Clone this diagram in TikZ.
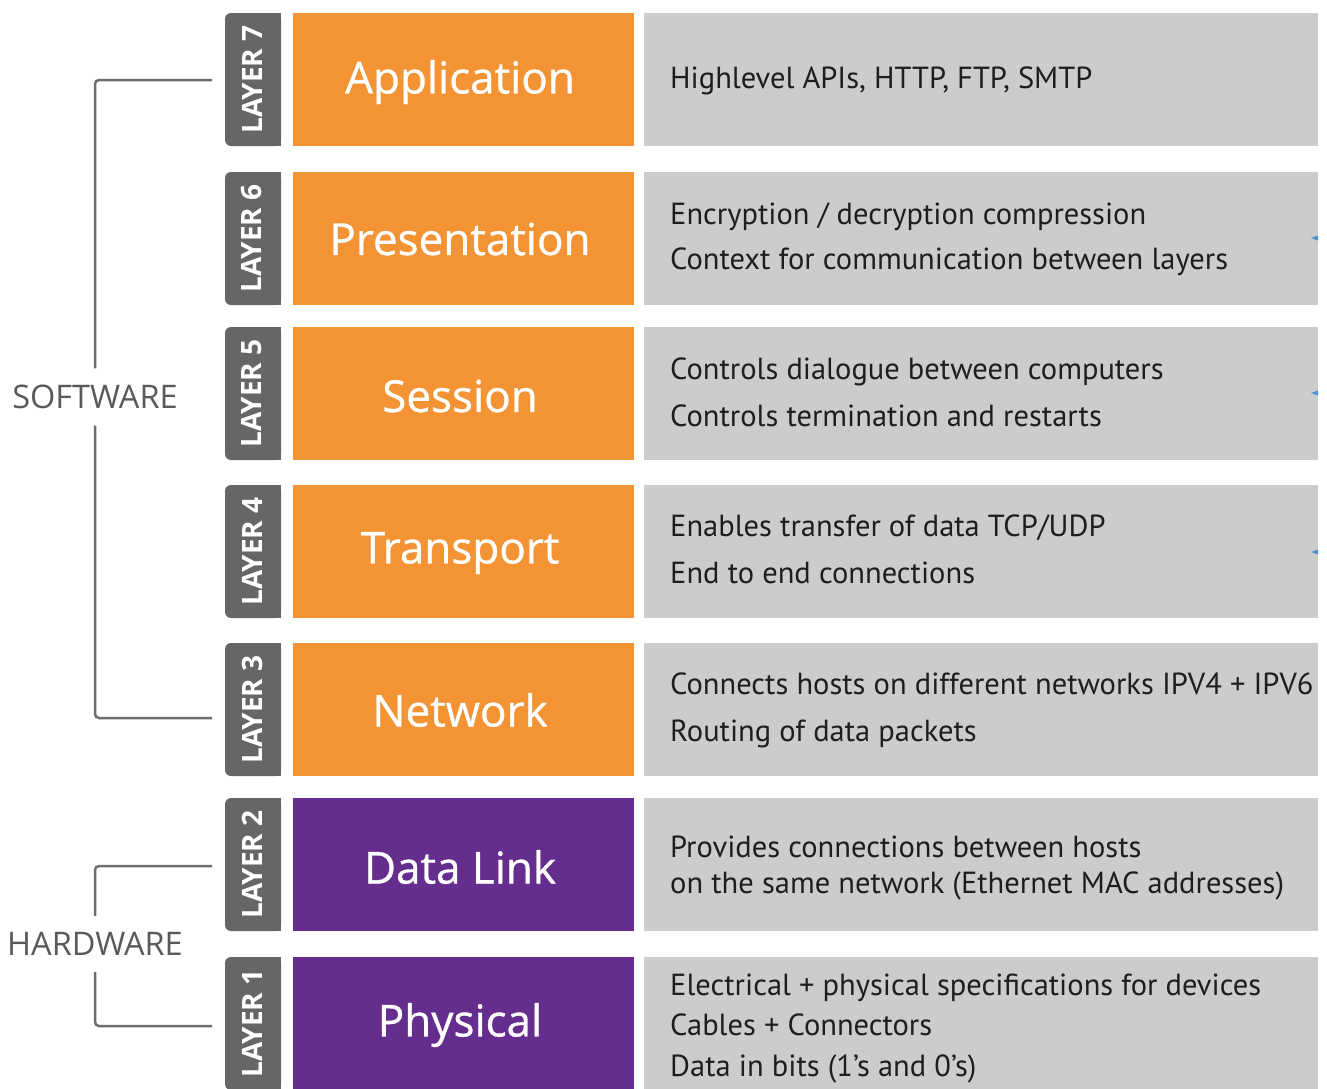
\documentclass[tikz,border=0pt]{standalone}
\usepackage{fontspec}
\setmainfont{Open Sans}
\newfontfamily\descfont{PT Sans}
\newfontfamily\titlefont[FakeBold=0.8]{Open Sans}
\usetikzlibrary{calc}
\definecolor{orng}{HTML}{F39333}
\definecolor{purp}{HTML}{652D8E}
\definecolor{tabgray}{HTML}{666666}
\definecolor{descgray}{HTML}{CCCCCC}
\definecolor{linegray}{HTML}{6E6E6E}
\definecolor{sidetext}{HTML}{5A5A5A}
\definecolor{desctext}{HTML}{1E1E1E}
\definecolor{bluemark}{HTML}{4A90D9}
\tikzset{
  tabbox/.style={fill=tabgray, draw=none, rounded corners=6pt, minimum width=56pt, minimum height=133pt, inner sep=0pt},
  tablabel/.style={rotate=90, text=white, font=\fontsize{28}{28}\selectfont\bfseries, inner sep=0pt},
  titlebox/.style={fill=#1, draw=none, minimum width=341pt, minimum height=133pt, inner sep=0pt},
  titletext/.style={text=white, font=\titlefont\fontsize{44}{44}\selectfont, inner sep=0pt},
  descbox/.style={fill=descgray, draw=none, minimum width=674pt, minimum height=133pt, inner sep=0pt},
  desc/.style={anchor=base west, inner sep=0pt, text=desctext, font=\descfont\fontsize{30.5}{30.5}\selectfont},
  side/.style={text=sidetext, font=\fontsize{32.5}{32.5}\selectfont, inner sep=0pt},
  brk/.style={draw=linegray, line width=2.5pt, rounded corners=4pt},
  bmark/.style={fill=bluemark, draw=none}
}
\begin{document}
\begin{tikzpicture}[x=1pt,y=-1pt]
\useasboundingbox (0,0) rectangle (1327,1088);
\fill[white] (0,0) rectangle (1327,1088);

% ---- rows: tab, title, description ----
\foreach \n/\yc/\col/\ttl/\ty in {
  7/79.5/orng/Application/82,
  6/238.5/orng/Presentation/239,
  5/393.5/orng/Session/396,
  4/551.5/orng/Transport/553,
  3/709.5/orng/Network/710,
  2/864.5/purp/Data Link/867,
  1/1023.5/purp/Physical/1025}{
  \node[tabbox] (t\n) at (253,\yc) {};
  \fill[tabgray] (t\n.north) rectangle (t\n.south east);
  \node[tablabel] (tl\n) at (252,\yc) {LAYER \n};
  \node[titlebox=\col] (b\n) at (463.5,\yc) {};
  \node[titletext] (bt\n) at (460,\ty) {\ttl};
  \node[descbox] (d\n) at (981,\yc) {};
}

% ---- descriptions ----
\node[desc] (d7a) at (670,88) {Highlevel APIs, HTTP, FTP, SMTP};
\node[desc] (d6a) at (670,224) {Encryption / decryption compression};
\node[desc] (d6b) at (670,269) {Context for communication between layers};
\node[desc] (d5a) at (670,379) {Controls dialogue between computers};
\node[desc] (d5b) at (670,426) {Controls termination and restarts};
\node[desc] (d4a) at (670,536) {Enables transfer of data TCP/UDP};
\node[desc] (d4b) at (670,583) {End to end connections};
\node[desc] (d3a) at (670,694) {Connects hosts on different networks IPV4 + IPV6};
\node[desc] (d3b) at (670,741) {Routing of data packets};
\node[desc] (d2a) at (670,857) {Provides connections between hosts};
\node[desc] (d2b) at (670,893) {on the same network (Ethernet MAC addresses)};
\node[desc] (d1a) at (670,995) {Electrical + physical specifications for devices};
\node[desc] (d1b) at (670,1035) {Cables + Connectors};
\node[desc] (d1c) at (670,1076) {Data in bits (1’s and 0’s)};

% ---- small blue marks at right edge ----
\foreach \my in {238,393,552}{
  \fill[bmark] (1311,\my) -- (1318,\my-2.5) -- (1318,\my+2.5) -- cycle;
}

% ---- side labels and brackets ----
\node[side, minimum height=57pt] (sw) at (95,397) {SOFTWARE};
\node[side, minimum height=56pt] (hw) at (95,944) {HARDWARE};
\coordinate (c7) at (212,80);
\coordinate (c3) at (212,718);
\coordinate (c2) at (212,866);
\coordinate (c1) at (212,1026);
\draw[brk] (sw.north) |- (c7);
\draw[brk] (sw.south) |- (c3);
\draw[brk] (hw.north) |- (c2);
\draw[brk] (hw.south) |- (c1);
\end{tikzpicture}
\end{document}
